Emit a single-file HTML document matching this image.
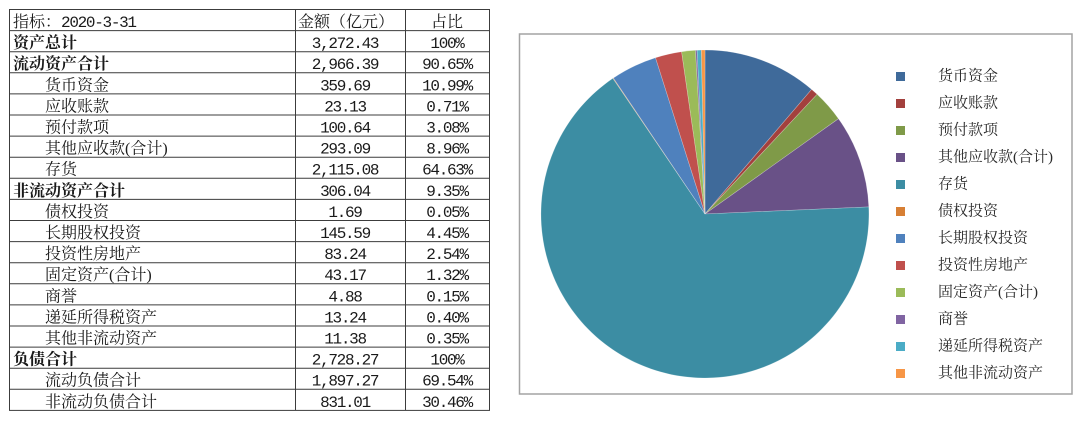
<!DOCTYPE html>
<html><head><meta charset="utf-8"><style>
html,body{margin:0;padding:0;background:#fff;}
svg{display:block;}
.cj{font-family:"Liberation Serif","Noto Serif CJK SC",serif;font-size:16px;fill:#1a1a1a;}
.b{font-weight:bold;}
.n{font-family:"Liberation Mono","Noto Serif CJK SC",monospace;font-size:16px;letter-spacing:-1.3px;fill:#1a1a1a;}
.lg{font-family:"Liberation Serif","Noto Serif CJK SC",serif;font-size:15px;fill:#2a2a2a;}
</style></head><body>
<svg width="1080" height="425" viewBox="0 0 1080 425" xmlns="http://www.w3.org/2000/svg">
<rect width="1080" height="425" fill="#fff"/>
<g stroke="#3c3c3c" stroke-width="1" fill="none">
<rect x="9.5" y="9.5" width="480" height="400.9"/>
<line x1="295.5" y1="9.5" x2="295.5" y2="410.4"/>
<line x1="405.5" y1="9.5" x2="405.5" y2="410.4"/>
<line x1="9.5" y1="30.6" x2="489.5" y2="30.6"/>
<line x1="9.5" y1="51.7" x2="489.5" y2="51.7"/>
<line x1="9.5" y1="72.8" x2="489.5" y2="72.8"/>
<line x1="9.5" y1="93.9" x2="489.5" y2="93.9"/>
<line x1="9.5" y1="115.0" x2="489.5" y2="115.0"/>
<line x1="9.5" y1="136.1" x2="489.5" y2="136.1"/>
<line x1="9.5" y1="157.2" x2="489.5" y2="157.2"/>
<line x1="9.5" y1="178.3" x2="489.5" y2="178.3"/>
<line x1="9.5" y1="199.4" x2="489.5" y2="199.4"/>
<line x1="9.5" y1="220.5" x2="489.5" y2="220.5"/>
<line x1="9.5" y1="241.6" x2="489.5" y2="241.6"/>
<line x1="9.5" y1="262.7" x2="489.5" y2="262.7"/>
<line x1="9.5" y1="283.8" x2="489.5" y2="283.8"/>
<line x1="9.5" y1="304.9" x2="489.5" y2="304.9"/>
<line x1="9.5" y1="326.0" x2="489.5" y2="326.0"/>
<line x1="9.5" y1="347.1" x2="489.5" y2="347.1"/>
<line x1="9.5" y1="368.2" x2="489.5" y2="368.2"/>
<line x1="9.5" y1="389.3" x2="489.5" y2="389.3"/>
</g>
<g class="cj">
<text x="13" y="27">指标：<tspan class="n">2020-3-31</tspan></text>
<text x="13" y="48.1" class="b">资产总计</text>
<text x="13" y="69.2" class="b">流动资产合计</text>
<text x="45" y="90.3">货币资金</text>
<text x="45" y="111.4">应收账款</text>
<text x="45" y="132.5">预付款项</text>
<text x="45" y="153.6">其他应收款(合计)</text>
<text x="45" y="174.7">存货</text>
<text x="13" y="195.8" class="b">非流动资产合计</text>
<text x="45" y="216.9">债权投资</text>
<text x="45" y="238">长期股权投资</text>
<text x="45" y="259.1">投资性房地产</text>
<text x="45" y="280.2">固定资产(合计)</text>
<text x="45" y="301.3">商誉</text>
<text x="45" y="322.4">递延所得税资产</text>
<text x="45" y="343.5">其他非流动资产</text>
<text x="13" y="364.6" class="b">负债合计</text>
<text x="45" y="385.7">流动负债合计</text>
<text x="45" y="406.8">非流动负债合计</text>
<text x="346" y="27" text-anchor="middle">金额（亿元）</text>
<text x="447" y="27" text-anchor="middle">占比</text>
</g>
<g class="n" text-anchor="middle">
<text x="345" y="48.1">3,272.43</text>
<text x="345" y="69.2">2,966.39</text>
<text x="345" y="90.3">359.69</text>
<text x="345" y="111.4">23.13</text>
<text x="345" y="132.5">100.64</text>
<text x="345" y="153.6">293.09</text>
<text x="345" y="174.7">2,115.08</text>
<text x="345" y="195.8">306.04</text>
<text x="345" y="216.9">1.69</text>
<text x="345" y="238">145.59</text>
<text x="345" y="259.1">83.24</text>
<text x="345" y="280.2">43.17</text>
<text x="345" y="301.3">4.88</text>
<text x="345" y="322.4">13.24</text>
<text x="345" y="343.5">11.38</text>
<text x="345" y="364.6">2,728.27</text>
<text x="345" y="385.7">1,897.27</text>
<text x="345" y="406.8">831.01</text>
<text x="447" y="48.1">100%</text>
<text x="447" y="69.2">90.65%</text>
<text x="447" y="90.3">10.99%</text>
<text x="447" y="111.4">0.71%</text>
<text x="447" y="132.5">3.08%</text>
<text x="447" y="153.6">8.96%</text>
<text x="447" y="174.7">64.63%</text>
<text x="447" y="195.8">9.35%</text>
<text x="447" y="216.9">0.05%</text>
<text x="447" y="238">4.45%</text>
<text x="447" y="259.1">2.54%</text>
<text x="447" y="280.2">1.32%</text>
<text x="447" y="301.3">0.15%</text>
<text x="447" y="322.4">0.40%</text>
<text x="447" y="343.5">0.35%</text>
<text x="447" y="364.6">100%</text>
<text x="447" y="385.7">69.54%</text>
<text x="447" y="406.8">30.46%</text>
</g>
<rect x="519.5" y="34" width="552.5" height="360" fill="#fff" stroke="#a3a3a3" stroke-width="1.5"/>
<g stroke="#ffffff" stroke-opacity="0.35" stroke-width="0.6">
<path d="M705,214 L705,50 A164,164 0 0 1 811.6,89.4 Z" fill="#3f6a9a"/>
<path d="M705,214 L811.6,89.4 A164,164 0 0 1 817.1,94.3 Z" fill="#a3403d"/>
<path d="M705,214 L817.1,94.3 A164,164 0 0 1 838.5,118.7 Z" fill="#7f9a48"/>
<path d="M705,214 L838.5,118.7 A164,164 0 0 1 868.8,206.9 Z" fill="#695187"/>
<path d="M705,214 L868.8,206.9 A164,164 0 1 1 612.9,78.3 Z" fill="#3c8da3"/>
<path d="M705,214 L612.9,78.3 A164,164 0 0 1 613.4,78.0 Z" fill="#d77f34"/>
<path d="M705,214 L613.4,78.0 A164,164 0 0 1 655.5,57.7 Z" fill="#4f81bd"/>
<path d="M705,214 L655.5,57.7 A164,164 0 0 1 681.6,51.7 Z" fill="#c0504d"/>
<path d="M705,214 L681.6,51.7 A164,164 0 0 1 695.5,50.3 Z" fill="#9bbb59"/>
<path d="M705,214 L695.5,50.3 A164,164 0 0 1 697.1,50.2 Z" fill="#8064a2"/>
<path d="M705,214 L697.1,50.2 A164,164 0 0 1 701.3,50.04 Z" fill="#4bacc6"/>
<path d="M705,214 L701.3,50.04 A164,164 0 0 1 705,50 Z" fill="#f79646"/>
</g>
<g>
<rect x="896" y="72" width="9" height="9" fill="#3f6a9a"/>
<rect x="896" y="99" width="9" height="9" fill="#a3403d"/>
<rect x="896" y="126" width="9" height="9" fill="#7f9a48"/>
<rect x="896" y="153" width="9" height="9" fill="#695187"/>
<rect x="896" y="180" width="9" height="9" fill="#3c8da3"/>
<rect x="896" y="207" width="9" height="9" fill="#d77f34"/>
<rect x="896" y="234" width="9" height="9" fill="#4f81bd"/>
<rect x="896" y="261" width="9" height="9" fill="#c0504d"/>
<rect x="896" y="288" width="9" height="9" fill="#9bbb59"/>
<rect x="896" y="315" width="9" height="9" fill="#8064a2"/>
<rect x="896" y="342" width="9" height="9" fill="#4bacc6"/>
<rect x="896" y="369" width="9" height="9" fill="#f79646"/>
</g>
<g class="lg">
<text x="938" y="80.5">货币资金</text>
<text x="938" y="107.5">应收账款</text>
<text x="938" y="134.5">预付款项</text>
<text x="938" y="161.5">其他应收款(合计)</text>
<text x="938" y="188.5">存货</text>
<text x="938" y="215.5">债权投资</text>
<text x="938" y="242.5">长期股权投资</text>
<text x="938" y="269.5">投资性房地产</text>
<text x="938" y="296.5">固定资产(合计)</text>
<text x="938" y="323.5">商誉</text>
<text x="938" y="350.5">递延所得税资产</text>
<text x="938" y="377.5">其他非流动资产</text>
</g>
</svg>
</body></html>
